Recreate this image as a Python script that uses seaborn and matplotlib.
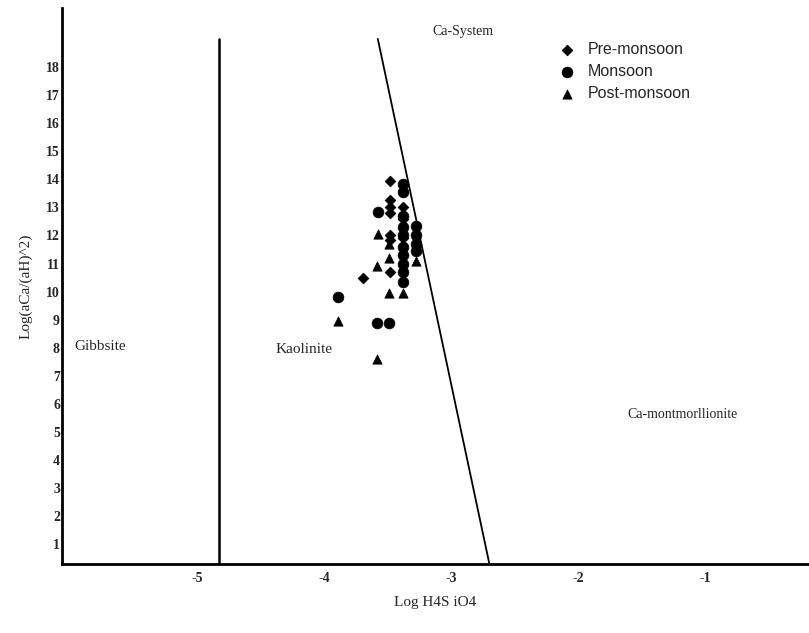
import numpy as np
import pandas as pd
import matplotlib
matplotlib.use("Agg")
import matplotlib.pyplot as plt
import seaborn as sns

# ---- data ----
pre_x = [-3.48, -3.48, -3.48, -3.48, -3.48, -3.48, -3.48, -3.70, -3.38, -3.38, -3.38, -3.38]
pre_y = [13.95, 13.25, 13.0, 12.8, 12.0, 11.85, 10.7, 10.5, 13.0, 12.6, 11.9, 11.3]

mon_x = [-3.58, -3.89, -3.59, -3.49, -3.38, -3.38, -3.38, -3.38, -3.38, -3.38,
         -3.38, -3.38, -3.38, -3.38, -3.28, -3.28, -3.28, -3.28]
mon_y = [12.85, 9.8, 8.9, 8.9, 13.85, 13.55, 12.7, 12.3, 12.0, 11.6,
         11.3, 11.0, 10.7, 10.35, 12.35, 12.0, 11.7, 11.45]

post_x = [-3.58, -3.49, -3.59, -3.49, -3.38, -3.89, -3.59, -3.28, -3.49, -3.38]
post_y = [12.05, 11.2, 10.9, 9.95, 9.95, 8.95, 7.6, 11.1, 11.7, 11.1]

seasons = ["Pre-monsoon", "Monsoon", "Post-monsoon"]

gibbsite_line_x = [-4.83, -4.83]
gibbsite_line_y = [0.3, 19.0]
kaol_line_x = [-3.58, -2.70]
kaol_line_y = [19.0, 0.3]

x_ticks = [-5, -4, -3, -2, -1]
y_ticks = list(range(1, 19))

df = pd.DataFrame({
    "x": pre_x + mon_x + post_x,
    "y": pre_y + mon_y + post_y,
    "Season": [seasons[0]] * len(pre_x) + [seasons[1]] * len(mon_x) + [seasons[2]] * len(post_x),
})

sns.set_style("white")
plt.rcParams["font.family"] = ["Liberation Serif", "DejaVu Serif"]

fig = plt.figure(figsize=(8.09, 6.33), dpi=100)
ax = fig.add_axes([62 / 809, 1 - 564 / 633, 1 - 62 / 809, (564 - 8) / 633])

markers = {"Pre-monsoon": "D", "Monsoon": "o", "Post-monsoon": "^"}
sizes = {"Pre-monsoon": 30, "Monsoon": 60, "Post-monsoon": 45}
for s in seasons:
    sub = df[df["Season"] == s]
    sns.scatterplot(data=sub, x="x", y="y", marker=markers[s], s=sizes[s],
                    color="black", edgecolor="black", linewidth=0.5,
                    ax=ax, label=s, zorder=3)

ax.plot(gibbsite_line_x, gibbsite_line_y, color="black", lw=1.8)
ax.plot(kaol_line_x, kaol_line_y, color="black", lw=1.3)

ax.set_xlim(-6.07, -0.18)
ax.set_ylim(0.3, 20.1)
ax.set_xticks(x_ticks)
ax.set_xticklabels([str(t) for t in x_ticks], fontsize=10, fontweight="bold")
ax.set_yticks(y_ticks)
ax.set_yticklabels([str(t) for t in y_ticks], fontsize=10, fontweight="bold")
ax.tick_params(axis="y", length=0, pad=1.5)
ax.tick_params(axis="x", length=0, pad=6)

for side in ["top", "right"]:
    ax.spines[side].set_visible(False)
for side in ["left", "bottom"]:
    ax.spines[side].set_color("black")
    ax.spines[side].set_linewidth(2)

ax.set_xlabel("Log H4S iO4", fontsize=11, labelpad=8)
ax.set_ylabel("Log(aCa/(aH)^2)", fontsize=11, labelpad=10)

ax.text(-2.91, 19.25, "Ca-System", fontsize=10, ha="center", va="center")
ax.text(-5.97, 8.04, "Gibbsite", fontsize=11, ha="left", va="center")
ax.text(-4.39, 7.94, "Kaolinite", fontsize=11, ha="left", va="center")
ax.text(-1.61, 5.62, "Ca-montmorllionite", fontsize=10, ha="left", va="center")

leg = ax.legend(loc="upper left", bbox_to_anchor=(0.635, 0.965), frameon=False,
                prop={"family": "Liberation Sans", "size": 11.5},
                handletextpad=0.3, labelspacing=0.45, markerscale=1.0)

fig.savefig("out.png", dpi=100)
